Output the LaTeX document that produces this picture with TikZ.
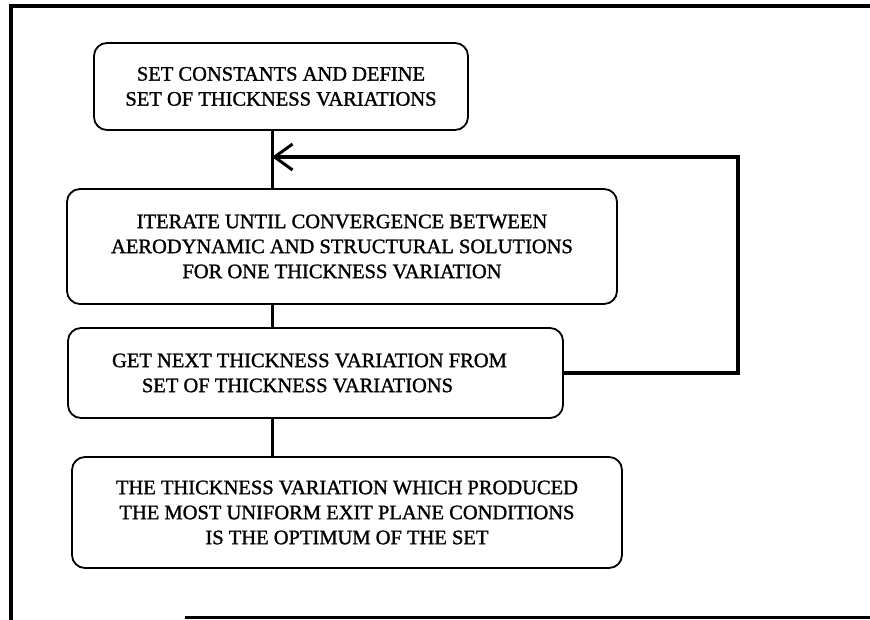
\documentclass[tikz,border=0pt]{standalone}
\usepackage{fontspec}
\setmainfont{Liberation Serif}
\newfontfamily\scanfont{Liberation Serif}[FakeBold=1.3]
\usepackage{tikz}
\usetikzlibrary{arrows.meta}

\begin{document}
\begin{tikzpicture}[x=1pt,y=-1pt,
	stepbox/.style={draw,line width=1.8pt,rounded corners=13pt,align=center,inner sep=0pt,font=\scanfont\fontsize{20.5}{25}\selectfont},
	link/.style={line width=3pt},
	loopline/.style={line width=4pt,-{Straight Barb[length=18pt,width=26pt,line width=3pt]}}]
	\useasboundingbox (0,0) rectangle (870,620);
	% Frame %
	\draw [line width=3.5pt] (870,6) -- (11,6) -- (11,620);
	\draw [line width=3pt] (185,617) -- (870,617);
	% Boxes %
	\node [stepbox,minimum width=374pt,minimum height=87pt] (setup) at (281,86.5) {SET CONSTANTS AND DEFINE\\SET OF THICKNESS VARIATIONS};
	\node [stepbox,minimum width=550pt,minimum height=115pt] (iterate) at (342,246.5) {ITERATE UNTIL CONVERGENCE BETWEEN\\AERODYNAMIC AND STRUCTURAL SOLUTIONS\\FOR ONE THICKNESS VARIATION};
	\node [stepbox,minimum width=495pt,minimum height=90pt] (next) at (315.5,373) {GET NEXT THICKNESS VARIATION FROM\hspace*{12pt}\\SET OF THICKNESS VARIATIONS\hspace*{36pt}};
	\node [stepbox,minimum width=550pt,minimum height=111pt] (optimum) at (347,512.5) {THE THICKNESS VARIATION WHICH PRODUCED\\THE MOST UNIFORM EXIT PLANE CONDITIONS\\IS THE OPTIMUM OF THE SET};
	% Lines %
	\coordinate (spine) at (272,0);
	\coordinate (corner) at (738,157);
	\coordinate (join) at (272,157);
	\draw [link] (spine |- setup.south) -- (spine |- iterate.north);
	\draw [link] (spine |- iterate.south) -- (spine |- next.north);
	\draw [link] (spine |- next.south) -- (spine |- optimum.north);
	\draw [loopline] (next.east) -| (corner) -- (join);
\end{tikzpicture}
\end{document}
